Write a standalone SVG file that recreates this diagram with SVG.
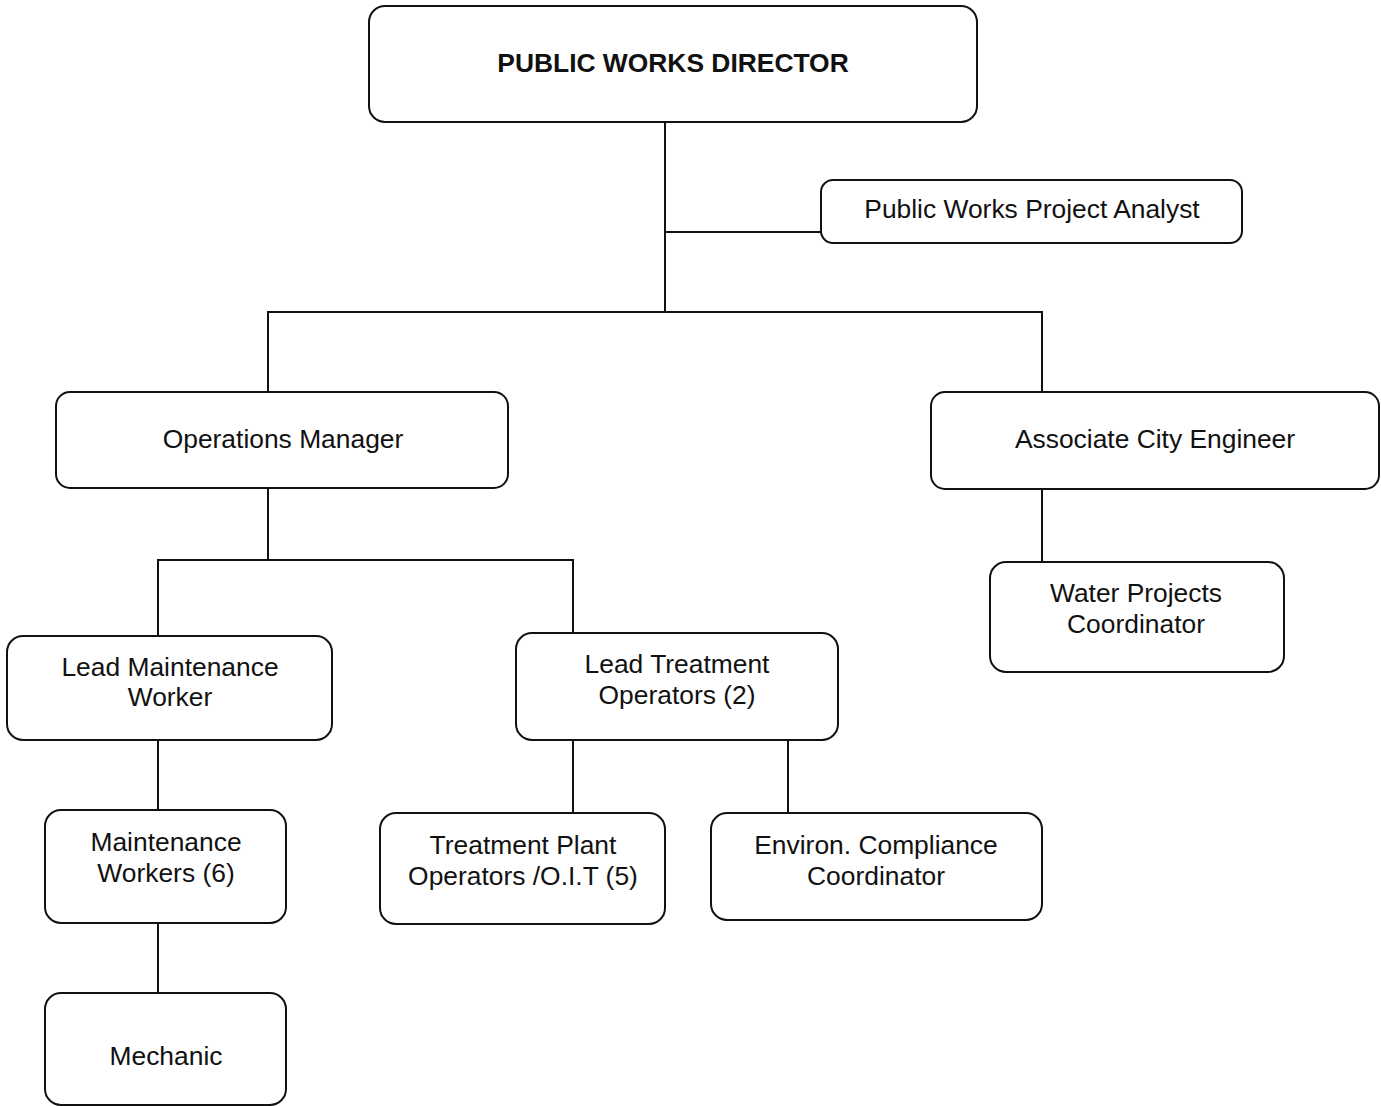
<svg xmlns="http://www.w3.org/2000/svg" width="1381" height="1106" viewBox="0 0 1381 1106">
  <style>
    .box { fill: #ffffff; stroke: #111111; stroke-width: 2; }
    .lbl { font-family: "Liberation Sans", Arial, sans-serif; font-size: 26.4px; fill: #111111; text-anchor: middle; }
    .title { font-weight: bold; font-size: 26.4px; }
    .wire { fill: none; stroke: #111111; stroke-width: 2; }
  </style>
  <rect width="1381" height="1106" fill="#ffffff"/>

  <!-- reporting lines -->
  <g id="connectors" class="wire">
    <path d="M665 122 V312"/>
    <path d="M665 232 H821"/>
    <path d="M268 392 V312 H1042 V392"/>
    <path d="M1042 489 V562"/>
    <path d="M268 488 V560"/>
    <path d="M158 636 V560 H573 V633"/>
    <path d="M158 740 V810"/>
    <path d="M573 740 V813"/>
    <path d="M788 740 V813"/>
    <path d="M158 923 V993"/>
  </g>

  <g id="director">
    <rect class="box" x="369" y="6" width="608" height="116" rx="16"/>
    <text class="lbl title" x="673" y="72">PUBLIC WORKS DIRECTOR</text>
  </g>

  <g id="analyst">
    <rect class="box" x="821" y="180" width="421" height="63" rx="12"/>
    <text class="lbl" x="1032" y="218">Public Works Project Analyst</text>
  </g>

  <g id="ops-manager">
    <rect class="box" x="56" y="392" width="452" height="96" rx="14"/>
    <text class="lbl" x="283" y="448">Operations Manager</text>
  </g>

  <g id="city-engineer">
    <rect class="box" x="931" y="392" width="448" height="97" rx="14"/>
    <text class="lbl" x="1155" y="448">Associate City Engineer</text>
  </g>

  <g id="water-projects">
    <rect class="box" x="990" y="562" width="294" height="110" rx="16"/>
    <text class="lbl" x="1136" y="602">Water Projects</text>
    <text class="lbl" x="1136" y="633">Coordinator</text>
  </g>

  <g id="lead-maintenance">
    <rect class="box" x="7" y="636" width="325" height="104" rx="16"/>
    <text class="lbl" x="170" y="676">Lead Maintenance</text>
    <text class="lbl" x="170" y="706">Worker</text>
  </g>

  <g id="lead-treatment">
    <rect class="box" x="516" y="633" width="322" height="107" rx="16"/>
    <text class="lbl" x="677" y="673">Lead Treatment</text>
    <text class="lbl" x="677" y="704">Operators (2)</text>
  </g>

  <g id="maintenance-workers">
    <rect class="box" x="45" y="810" width="241" height="113" rx="16"/>
    <text class="lbl" x="166" y="851">Maintenance</text>
    <text class="lbl" x="166" y="882">Workers (6)</text>
  </g>

  <g id="plant-operators">
    <rect class="box" x="380" y="813" width="285" height="111" rx="16"/>
    <text class="lbl" x="523" y="854">Treatment Plant</text>
    <text class="lbl" x="523" y="885">Operators /O.I.T (5)</text>
  </g>

  <g id="compliance">
    <rect class="box" x="711" y="813" width="331" height="107" rx="16"/>
    <text class="lbl" x="876" y="854">Environ. Compliance</text>
    <text class="lbl" x="876" y="885">Coordinator</text>
  </g>

  <g id="mechanic">
    <rect class="box" x="45" y="993" width="241" height="112" rx="16"/>
    <text class="lbl" x="166" y="1065">Mechanic</text>
  </g>
</svg>
